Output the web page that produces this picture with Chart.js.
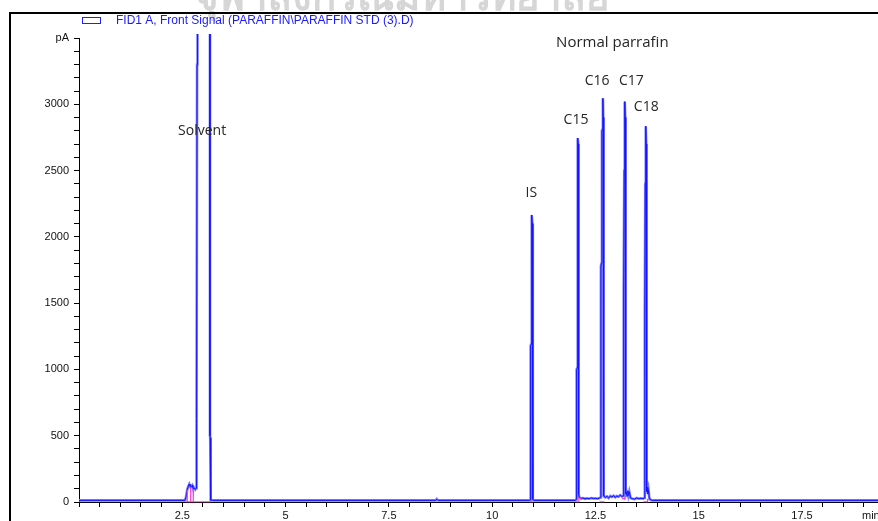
<!DOCTYPE html>
<html>
<head>
<meta charset="utf-8">
<script src="https://cdn.jsdelivr.net/npm/chart.js@4.4.0/dist/chart.umd.min.js"></script>
<style>
  html, body { margin: 0; padding: 0; background: #fff; overflow: hidden; }
  #wrap { width: 878px; height: 521px; }
</style>
</head>
<body>
<div id="wrap"><canvas id="myChart" width="878" height="521"></canvas></div>
<script>
// retention time (min) / detector signal (pA)
const time = [
  0, 2.565, 2.589, 2.621, 2.645, 2.669, 2.686, 2.703, 2.725, 2.742, 2.755, 2.766, 2.790, 2.815, 2.835,
  2.842, 2.850, 2.858, 2.866, 2.872, 3.165, 3.170, 3.176, 3.180, 3.187, 3.195, 3.230,
  8.640, 8.660, 8.690,
  10.900, 10.925, 10.932, 10.945, 10.953, 10.963, 10.972, 10.980, 10.988, 11.010,
  12.010, 12.038, 12.045, 12.058, 12.066, 12.076, 12.084, 12.090, 12.097, 12.110,
  12.150, 12.200, 12.250, 12.300, 12.350, 12.400, 12.450, 12.500, 12.550, 12.600,
  12.625, 12.633, 12.648, 12.658, 12.670, 12.681, 12.689, 12.696, 12.703,
  12.740, 12.780, 12.820, 12.860, 12.900, 12.940, 12.980, 13.020, 13.060, 13.100, 13.140,
  13.170, 13.178, 13.190, 13.198, 13.206, 13.214, 13.222, 13.228, 13.236,
  13.250, 13.265, 13.285, 13.300, 13.320, 13.350, 13.400, 13.450, 13.500, 13.550, 13.600, 13.650,
  13.684, 13.691, 13.700, 13.707, 13.715, 13.722, 13.729, 13.736, 13.743,
  13.755, 13.770, 13.785, 13.805, 13.840, 13.880, 19.340
];
const signal = [
  12, 12, 35, 95, 118, 135, 122, 112, 120, 126, 110, 100, 106, 95, 105,
  620, 630, 3300, 3320, 20000, 20000, 500, 485, 310, 295, 14, 12,
  12, 22, 12,
  12, 15, 1180, 1190, 2150, 2165, 2100, 1100, 20, 12,
  12, 20, 1000, 1010, 2035, 2745, 2700, 900, 60, 35,
  26, 30, 24, 28, 25, 30, 26, 28, 25, 30,
  35, 1780, 1800, 2800, 2810, 3045, 2900, 1200, 45,
  35, 42, 30, 45, 38, 48, 36, 45, 40, 52, 42,
  45, 1545, 1560, 2500, 2520, 3020, 2900, 1300, 60,
  75, 45, 85, 50, 78, 30, 25, 22, 30, 25, 28, 25,
  30, 1390, 1400, 2400, 2420, 2835, 2700, 1000, 80,
  110, 60, 90, 30, 15, 12, 12
];
// integration baseline / drop lines (pink), null = break
const baseTime = [
  2.565, 2.621, 2.621, 2.621, 2.703, 2.703, 2.703, 2.766, 2.766, 2.766, 3.195, 3.2,
  10.90, 11.00, 11.01,
  12.02, 12.10, 12.10, 12.16, 12.17,
  12.60, 12.72, 12.73,
  13.14, 13.24, 13.25,
  13.66, 13.75, 13.76, 13.82, 13.83
];
const baseSignal = [
  2, 2, 90, 2, 2, 108, 2, 2, 96, 2, 2, null,
  2, 2, null,
  2, 2, 30, 24, null,
  2, 2, null,
  25, 25, null,
  2, 2, 20, 15, null
];

const xTickLabels = [2.5, 5, 7.5, 10, 12.5, 15, 17.5];
const yTickLabels = [0, 500, 1000, 1500, 2000, 2500, 3000];
const peakNames = ['Solvent', 'IS', 'C15', 'C16', 'C17', 'C18'];
const peakNameTime = [2.98, 10.95, 12.03, 12.54, 13.37, 13.73];
const peakNameSignal = [2800, 2330, 2885, 3175, 3175, 2980];
const legendText = 'FID1 A, Front Signal (PARAFFIN\\PARAFFIN STD (3).D)';
const titleText = 'Normal parrafin';
const watermark = 'จุฬาลงกรณ์มหาวิทยาลัย';

const trace = time.map((t, i) => ({ x: t, y: signal[i] }));
const baseline = baseTime.map((t, i) => ({ x: t, y: baseSignal[i] }));

const decorations = {
  id: 'decorations',
  beforeDraw(chart) {
    const ctx = chart.ctx;
    ctx.save();
    ctx.fillStyle = '#d6d6d6';
    ctx.font = 'bold 40px "DejaVu Sans"';
    ctx.textAlign = 'center';
    ctx.textBaseline = 'alphabetic';
    ctx.fillText(watermark, 402, 10);
    ctx.strokeStyle = '#000';
    ctx.lineWidth = 2;
    ctx.beginPath();
    ctx.moveTo(10, 521);
    ctx.lineTo(10, 13);
    ctx.lineTo(878, 13);
    ctx.stroke();
    ctx.restore();
  },
  afterDraw(chart) {
    const { ctx, scales: { x, y } } = chart;
    ctx.save();
    ctx.strokeStyle = '#2020ff';
    ctx.lineWidth = 1;
    ctx.strokeRect(82.5, 17.5, 18, 6);
    ctx.fillStyle = '#1a1aff';
    ctx.font = '12px "Liberation Sans"';
    ctx.textAlign = 'left';
    ctx.textBaseline = 'middle';
    ctx.fillText(legendText, 116, 21);

    ctx.fillStyle = '#262626';
    ctx.font = '14px "Open Sans"';
    ctx.textAlign = 'center';
    peakNames.forEach((n, i) => {
      ctx.fillText(n, x.getPixelForValue(peakNameTime[i]), y.getPixelForValue(peakNameSignal[i]));
    });
    ctx.font = '15px "Open Sans"';
    ctx.fillText(titleText, x.getPixelForValue(12.91), y.getPixelForValue(3465));

    ctx.fillStyle = '#111';
    ctx.font = '11px "Liberation Sans"';
    ctx.textAlign = 'left';
    ctx.fillText('min', 862, 516);
    ctx.restore();
  }
};

const tickFont = { family: 'Liberation Sans', size: 11 };

new Chart(document.getElementById('myChart'), {
  type: 'line',
  data: {
    datasets: [
      { data: baseline, borderColor: '#ff3fd0', borderWidth: 1.2, pointRadius: 0, tension: 0, spanGaps: false, clip: 2 },
      { data: trace, borderColor: '#1414ff', borderWidth: 1, pointRadius: 0, tension: 0, clip: { left: 0, top: 4, right: 0, bottom: 2 } },
      { data: trace, borderColor: '#7c7cff', borderWidth: 2.6, pointRadius: 0, tension: 0, clip: { left: 0, top: 4, right: 0, bottom: 2 } }
    ]
  },
  options: {
    responsive: false,
    animation: false,
    devicePixelRatio: 1,
    layout: { padding: { top: 38, right: 0, left: 0, bottom: 0 } },
    plugins: { legend: { display: false }, tooltip: { enabled: false } },
    scales: {
      x: {
        type: 'linear', min: 0, max: 19.34,
        border: { color: '#000', width: 1 },
        grid: { drawOnChartArea: false, tickLength: 5, tickColor: '#000' },
        ticks: {
          stepSize: 0.5, includeBounds: false, autoSkip: false, maxRotation: 0, maxTicksLimit: 100,
          padding: 2, color: '#111', font: tickFont,
          callback: v => xTickLabels.includes(v) ? String(v) : ''
        },
        afterFit(s) { s.height = 19; }
      },
      y: {
        min: 0, max: 3500,
        border: { color: '#000', width: 1 },
        grid: { drawOnChartArea: false, tickLength: 5, tickColor: '#000' },
        ticks: {
          stepSize: 100, autoSkip: false, maxTicksLimit: 100,
          padding: 5, color: '#111', font: tickFont,
          callback: v => v === 3500 ? 'pA' : (yTickLabels.includes(v) ? String(v) : '')
        },
        afterFit(s) { s.width = 79; }
      }
    }
  },
  plugins: [decorations]
});
</script>
</body>
</html>
